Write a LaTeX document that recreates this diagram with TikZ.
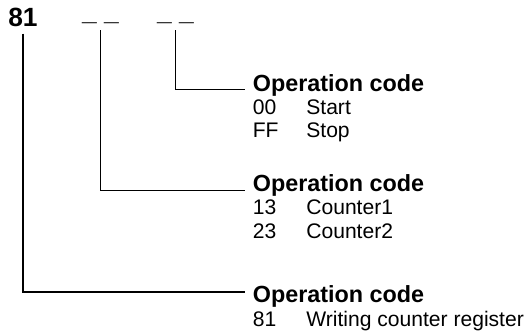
\documentclass[tikz,border=0pt]{standalone}
\usepackage{fontspec}
\setmainfont{Liberation Sans}
\usetikzlibrary{positioning}

\begin{document}
\begin{tikzpicture}[
  x=0.02cm,y=-0.02cm,
  hd/.style={font=\fontsize{13.3}{16}\selectfont\bfseries,inner sep=0pt,anchor=base west},
  top/.style={hd,font=\fontsize{15}{18}\selectfont\bfseries,anchor=base},
  txt/.style={font=\fontsize{12}{14}\selectfont,inner sep=0pt,anchor=base west},
  conn/.style={draw=black,line width=0.85pt,shorten <=0.12cm}
]
\useasboundingbox (0,0) rectangle (529,333);

% ---- kopregel: 81 _ _ _ _ ----
\node[top] (lead) at (23,27) {81};
\node[top] (byte1) at (100.5,20.5) {\_ \_};
\node[top] (byte2) at (175.5,20.5) {\_ \_};

% ---- blok 1: laatste byte ----
\node[hd] (op1) at (252.5,91.7) {Operation code};
\node[txt] (c00) at ([yshift=-0.46cm]op1.base west) {00};
\node[txt] (start) at ([xshift=1.07cm]c00.base west) {Start};
\node[txt] (cff) at ([yshift=-0.46cm]c00.base west) {FF};
\node[txt] (stop) at ([xshift=1.07cm]cff.base west) {Stop};

% ---- blok 2: middelste byte ----
\node[hd] (op2) at (252.5,192) {Operation code};
\node[txt] (c13) at ([yshift=-0.46cm]op2.base west) {13};
\node[txt] (cnt1) at ([xshift=1.07cm]c13.base west) {Counter1};
\node[txt] (c23) at ([yshift=-0.47cm]c13.base west) {23};
\node[txt] (cnt2) at ([xshift=1.07cm]c23.base west) {Counter2};

% ---- blok 3: eerste byte ----
\node[hd] (op3) at (252.5,302.5) {Operation code};
\node[txt] (c81) at ([yshift=-0.48cm]op3.base west) {81};
\node[txt] (wcr) at ([xshift=1.07cm]c81.base west) {Writing counter register};

% verbindingen
\draw[conn] (byte2.south) |- ([shift={(-7.5,-2)}]op1.base west);
\draw[conn] (byte1.south) |- ([shift={(-7.5,-1.5)}]op2.base west);
\draw[conn] (lead.south) |- ([shift={(-7.5,-10.5)}]op3.base west);

\end{tikzpicture}
\end{document}
